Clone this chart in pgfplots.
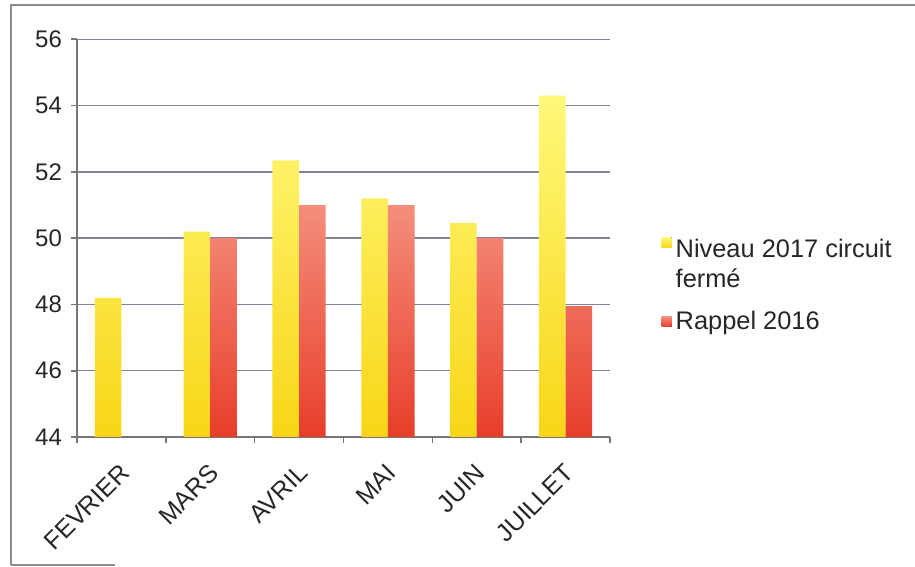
\documentclass[border=0pt]{standalone}
\usepackage{fontspec}
\setmainfont{Liberation Sans}
\usepackage{pgfplots}
\pgfplotsset{compat=1.18}

\definecolor{gridc}{RGB}{128,132,148}
\definecolor{axisc}{RGB}{118,118,118}
\definecolor{framec}{RGB}{140,140,140}
\definecolor{ylwtop}{RGB}{255,248,122}
\definecolor{ylwbot}{RGB}{248,214,22}
\definecolor{redtop}{RGB}{245,142,124}
\definecolor{redbot}{RGB}{230,62,42}

% legend squares: centred on the row, or raised beside the first line of a two-line entry
\pgfplotsset{
  square legend/.style={legend image code/.code={\fill[##1] (0pt,-2.5pt) rectangle (5pt,2.5pt);}},
  raised square legend/.style={legend image code/.code={\fill[##1] (0pt,9pt) rectangle (5pt,14pt);}},
}

\begin{document}
\begin{tikzpicture}
\path[use as bounding box] (0,0) rectangle (457.5pt,283.5pt);
% page frame
\draw[framec, line width=0.8pt] (5.5pt,1pt) -- (5.5pt,281pt) -- (457.5pt,281pt);
\draw[framec, line width=0.8pt] (5.5pt,1pt) -- (57.5pt,1pt);
\begin{axis}[
  at={(38.5pt,65pt)}, anchor=south west,
  scale only axis, width=266.5pt, height=198.85pt,
  % bars rise from the bottom of the value axis (44)
  y coord trafo/.code={\pgfmathparse{#1-44}},
  y coord inv trafo/.code={\pgfmathparse{#1+44}},
  ymin=44, ymax=56, ytick={44,46,...,56},
  yticklabels={44,46,48,50,52,54,56},
  xmin=-0.5, xmax=5.5,
  xtick={0,...,5},
  xticklabels={FEVRIER,MARS,AVRIL,MAI,JUIN,JUILLET},
  minor xtick={-0.5,0.5,...,5.5},
  major x tick style={draw=none},
  axis x line*=bottom, axis y line*=left,
  axis line style={axisc, line width=0.9pt, -},
  tick align=outside,
  major tick length=3pt, minor tick length=3pt,
  every tick/.style={axisc, line width=0.8pt},
  ymajorgrids, grid style={gridc, line width=0.75pt},
  tick label style={font=\fontsize{12}{14}\selectfont, text=black!85},
  yticklabel style={xshift=-1pt},
  xticklabel style={font=\fontsize{12.5}{14}\selectfont, rotate=45, anchor=north east,
    inner sep=1pt, xshift=-6.6pt, yshift=-4.9pt},
  legend style={at={(1.085,0.38)}, anchor=west, draw=none, fill=none,
    font=\fontsize{12.7}{15}\selectfont, text=black!85,
    nodes={align=left, inner xsep=2pt}, row sep=6pt},
  legend cell align=left,
  square legend,
]
\addplot[ybar, bar width=0.3, bar shift=-0.15, draw=none,
  top color=ylwtop, bottom color=ylwbot, raised square legend]
  coordinates {(0,48.2) (1,50.2) (2,52.35) (3,51.2) (4,50.45) (5,54.3)};
\addlegendentry{Niveau 2017 circuit\\fermé}
\addplot[ybar, bar width=0.3, bar shift=0.15, draw=none,
  top color=redtop, bottom color=redbot]
  coordinates {(1,50) (2,51) (3,51) (4,50) (5,47.95)};
\addlegendentry{Rappel 2016}
\end{axis}
\end{tikzpicture}
\end{document}
